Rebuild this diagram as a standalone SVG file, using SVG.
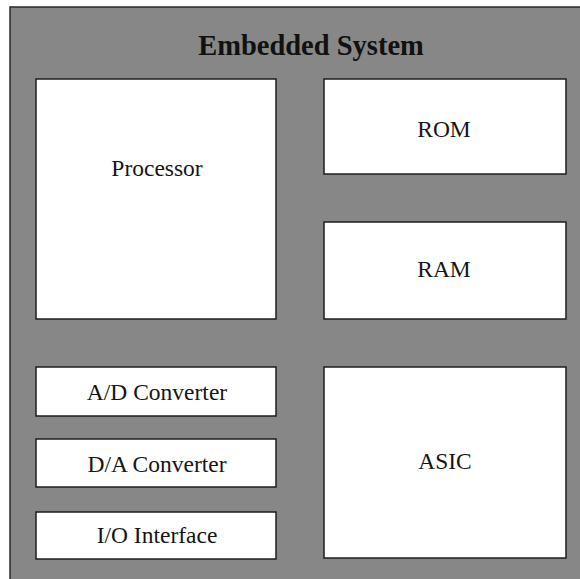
<svg xmlns="http://www.w3.org/2000/svg" width="580" height="579" viewBox="0 0 580 579">
  <style>
    .frame { fill: #878787; stroke: #2a2a2a; stroke-width: 1.5; }
    .block { fill: #ffffff; stroke: #1e1e1e; stroke-width: 1.5; }
    .label { font-family: "Liberation Serif", "Times New Roman", serif; font-size: 23.5px; fill: #151515; text-anchor: middle; }
    .title { font-family: "Liberation Serif", "Times New Roman", serif; font-size: 28.5px; font-weight: bold; fill: #111111; text-anchor: middle; }
  </style>
  <rect width="580" height="579" fill="#ffffff"/>

  <!-- enclosing system -->
  <g id="embedded-system">
    <rect class="frame" x="10" y="7" width="600" height="600"/>
    <text class="title" x="311" y="55">Embedded System</text>
  </g>

  <g id="processor">
    <rect class="block" x="36" y="79" width="240" height="240"/>
    <text class="label" x="157" y="176">Processor</text>
  </g>

  <g id="rom">
    <rect class="block" x="324" y="79" width="242" height="95"/>
    <text class="label" x="444" y="137">ROM</text>
  </g>

  <g id="ram">
    <rect class="block" x="324" y="222" width="242" height="97"/>
    <text class="label" x="444" y="277">RAM</text>
  </g>

  <g id="ad-converter">
    <rect class="block" x="36" y="367" width="240" height="49"/>
    <text class="label" x="157" y="400">A/D Converter</text>
  </g>

  <g id="da-converter">
    <rect class="block" x="36" y="439" width="240" height="48"/>
    <text class="label" x="157" y="472">D/A Converter</text>
  </g>

  <g id="io-interface">
    <rect class="block" x="36" y="512" width="240" height="47"/>
    <text class="label" x="157" y="543">I/O Interface</text>
  </g>

  <g id="asic">
    <rect class="block" x="324" y="367" width="242" height="191"/>
    <text class="label" x="445" y="469">ASIC</text>
  </g>

  <g id="connectors"></g>
</svg>
